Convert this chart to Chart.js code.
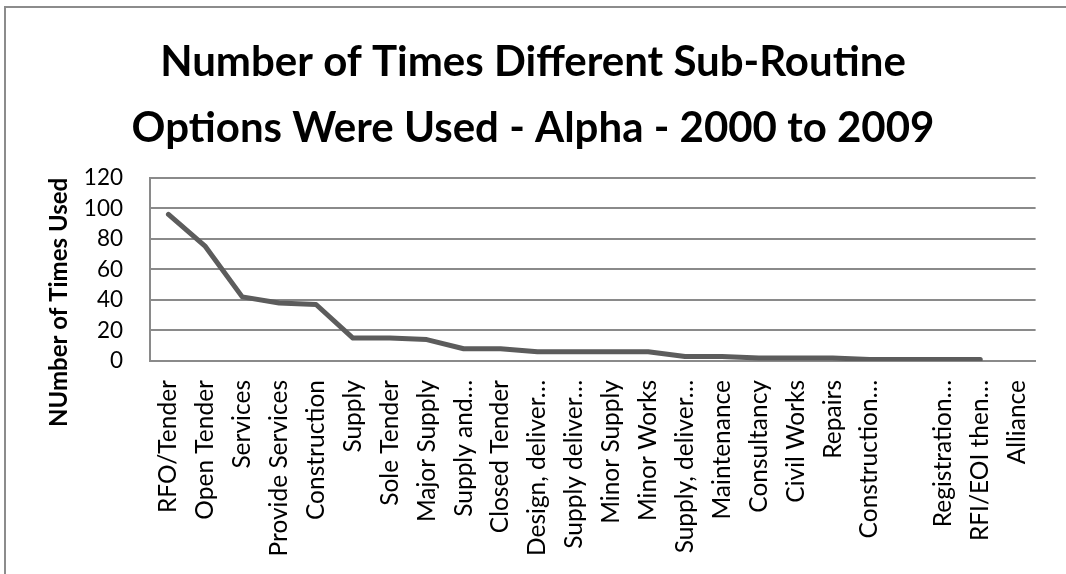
<!DOCTYPE html>
<html>
<head>
<meta charset="utf-8">
<script src="https://cdn.jsdelivr.net/npm/chart.js@4"></script>
<style>
  html, body { margin: 0; padding: 0; background: #fff; overflow: hidden; }
  #wrap { position: relative; width: 1066px; height: 574px; overflow: hidden; }
  #frameTop { position: absolute; left: 4px; top: 6px; width: 1062px; height: 0;
              border-top: 2px solid #8c8c8c; }
  #frameLeft { position: absolute; left: 4px; top: 6px; width: 0; height: 568px;
               border-left: 2px solid #8c8c8c; }
  canvas { position: absolute; left: 0; top: 0; }
</style>
</head>
<body>
<div id="wrap">
  <div id="frameTop"></div>
  <div id="frameLeft"></div>
  <canvas id="c" width="1066" height="574"></canvas>
</div>
<script>
// Sub-routine options and how often each was used
const categories = [
  'RFO/Tender', 'Open Tender', 'Services', 'Provide Services', 'Construction',
  'Supply', 'Sole Tender', 'Major Supply', 'Supply and…', 'Closed Tender',
  'Design, deliver…', 'Supply deliver…', 'Minor Supply', 'Minor Works',
  'Supply, deliver…', 'Maintenance', 'Consultancy', 'Civil Works', 'Repairs',
  'Construction…', '', 'Registration…', 'RFI/EOI then…', 'Alliance'
];
const timesUsed = [
  96, 75, 42, 38, 37,
  15, 15, 14, 8, 8,
  6, 6, 6, 6,
  3, 3, 2, 2, 2,
  1, 1, 1, 1, null
];
const yTicks = [0, 20, 40, 60, 80, 100, 120];

const titleLines = ['Number of Times Different Sub-Routine', 'Options Were Used - Alpha - 2000 to 2009'];
const yAxisTitle = 'NUmber of Times Used';

const FONT = 'Lato, "Open Sans", sans-serif';
const GRID = '#8a8a8a';

// Vertical axis title, placed beside the value axis
const yTitlePlugin = {
  id: 'yTitle',
  afterDraw(chart) {
    const ctx = chart.ctx;
    const area = chart.chartArea;
    ctx.save();
    ctx.translate(59, (area.top + area.bottom) / 2 + 33);
    ctx.rotate(-Math.PI / 2);
    ctx.font = 'bold 24px ' + FONT;
    ctx.fillStyle = '#000';
    ctx.textAlign = 'center';
    ctx.textBaseline = 'middle';
    ctx.fillText(yAxisTitle, 0, 0);
    ctx.restore();
  }
};

new Chart(document.getElementById('c'), {
  type: 'line',
  data: {
    labels: categories,
    datasets: [{
      data: timesUsed,
      borderColor: '#5c5c5c',
      borderWidth: 5,
      pointRadius: 0,
      pointHoverRadius: 0,
      tension: 0,
      fill: false,
      borderJoinStyle: 'round',
      borderCapStyle: 'round'
    }]
  },
  options: {
    responsive: false,
    animation: false,
    events: [],
    layout: { padding: { left: 21, right: 21, top: 0, bottom: 0 } },
    plugins: {
      legend: { display: false },
      tooltip: { enabled: false },
      title: {
        display: true,
        text: titleLines,
        color: '#000',
        font: { family: FONT, size: 42, weight: 'bold', lineHeight: 1.58 },
        padding: { top: 29, bottom: 16 }
      }
    },
    scales: {
      x: {
        type: 'category',
        offset: true,
        grid: { display: false, drawTicks: false },
        border: { display: true, color: GRID, width: 2 },
        ticks: {
          autoSkip: false,
          maxRotation: 90,
          minRotation: 90,
          padding: 19,
          color: '#000',
          font: { family: FONT, size: 24.5 }
        },
        afterFit(scale) { scale.height = 213; }
      },
      y: {
        min: 0,
        max: 120,
        afterBuildTicks(scale) { scale.ticks = yTicks.map(v => ({ value: v })); },
        grid: { color: GRID, lineWidth: 2, drawTicks: false },
        border: { display: true, color: GRID, width: 2 },
        ticks: {
          padding: 27,
          color: '#000',
          font: { family: FONT, size: 22.5 }
        },
        afterFit(scale) { scale.width = 129; }
      }
    }
  },
  plugins: [yTitlePlugin]
});
</script>
</body>
</html>
